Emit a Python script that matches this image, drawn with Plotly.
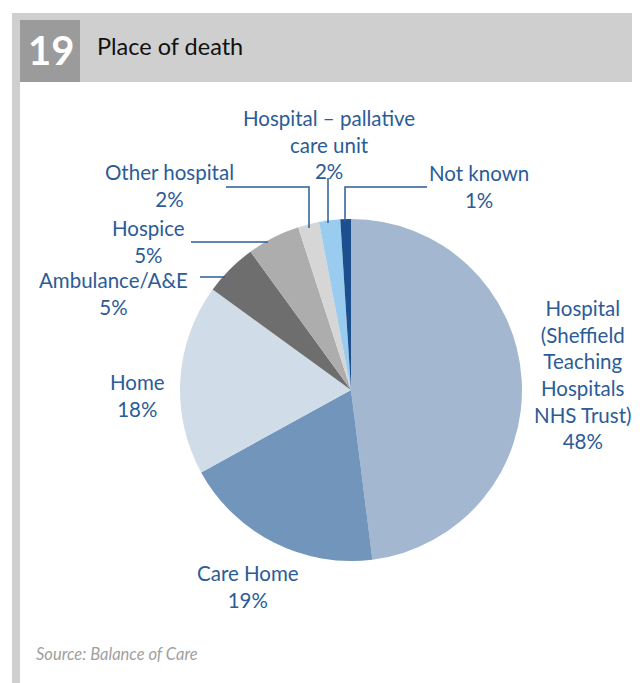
import plotly.graph_objects as go

# ── Data ──────────────────────────────────────────────────────────────────────
places = [
    "Hospital (Sheffield Teaching Hospitals NHS Trust)",
    "Care Home",
    "Home",
    "Ambulance/A&E",
    "Hospice",
    "Other hospital",
    "Hospital – pallative care unit",
    "Not known",
]
shares = [48, 19, 18, 5, 5, 2, 2, 1]
slice_colors = ["#a3b8d0", "#7295bb", "#d0dce8", "#6e6e6e",
                "#adadad", "#d6d6d6", "#99ccef", "#1b4f8e"]

# label text as printed (line-broken), same order as places
label_text = [
    "Hospital<br>(Sheffield<br>Teaching<br>Hospitals<br>NHS Trust)",
    "Care Home",
    "Home",
    "Ambulance/A&E",
    "Hospice",
    "Other hospital",
    "Hospital – pallative<br>care unit",
    "Not known",
]

# ── Styling ───────────────────────────────────────────────────────────────────
OFF = 8            # page body margin pushes the figure 8px right/down
W, H = 640 - OFF, 683 - OFF
TEXT = "#2b5c97"
FONT = "Lato, sans-serif"


def px(x):
    return (x - OFF) / W


def py(y):
    return 1 - (y - OFF) / H


# pie geometry in pixels (centre and radius)
CX, CY, R = 351, 390, 171

fig = go.Figure(go.Pie(
    labels=places,
    values=shares,
    sort=False,
    direction="clockwise",
    rotation=0,
    marker=dict(colors=slice_colors, line=dict(width=0)),
    textinfo="none",
    hoverinfo="label+percent",
    domain=dict(x=[px(CX - R), px(CX + R)], y=[py(CY + R), py(CY - R)]),
))

# label anchor points (centre of top line) in pixels
label_pos = [
    (583, 294),
    (248, 559),
    (137, 368),
    (113, 266),
    (148, 214),
    (169, 158),
    (329, 104),
    (479, 159),
]

annotations = []
for txt, v, (lx, ly) in zip(label_text, shares, label_pos):
    annotations.append(dict(
        x=px(lx), y=py(ly), xref="paper", yref="paper",
        text=f"{txt}<br>{v}%", showarrow=False,
        xanchor="center", yanchor="top", align="center",
        font=dict(size=20.5, color=TEXT, family=FONT),
    ))

annotations += [
    dict(x=px(95), y=py(46), xref="paper", yref="paper", text="Place of death",
         showarrow=False, xanchor="left", yanchor="middle",
         font=dict(size=23.5, color="#111111", family=FONT)),
    dict(x=px(51), y=py(50), xref="paper", yref="paper", text="<b>19</b>",
         showarrow=False, xanchor="center", yanchor="middle",
         font=dict(size=40, color="white", family=FONT)),
    dict(x=px(34), y=py(654), xref="paper", yref="paper",
         text="<i>Source: Balance of Care</i>", showarrow=False,
         xanchor="left", yanchor="middle",
         font=dict(size=16.5, color="#a0a0a0", family=FONT)),
]

# leader lines (pixel polylines)
leaders = [
    [(226, 187), (309, 187), (309, 228)],   # other hospital
    [(328, 178), (328, 223)],               # palliative
    [(427, 187), (345, 187), (345, 222)],   # not known
    [(191, 242), (268, 242)],               # hospice
    [(200, 277), (225, 277)],               # ambulance
]

shapes = [
    # header bar
    dict(type="rect", xref="paper", yref="paper", x0=px(12), x1=px(640),
         y0=py(82), y1=py(13), fillcolor="#cfcfcf", line=dict(width=0), layer="below"),
    # number box
    dict(type="rect", xref="paper", yref="paper", x0=px(20), x1=px(80),
         y0=py(82), y1=py(20), fillcolor="#9b9b9b", line=dict(width=0), layer="below"),
    # left rule
    dict(type="rect", xref="paper", yref="paper", x0=px(12), x1=px(20),
         y0=py(683), y1=py(13), fillcolor="#cfcfcf", line=dict(width=0), layer="below"),
]
for pts in leaders:
    path = "M " + " L ".join(f"{px(x)},{py(y)}" for x, y in pts)
    shapes.append(dict(type="path", xref="paper", yref="paper", path=path,
                       line=dict(color=TEXT, width=1.5)))

fig.update_layout(
    width=W, height=H,
    margin=dict(l=0, r=0, t=0, b=0),
    paper_bgcolor="white",
    plot_bgcolor="white",
    showlegend=False,
    annotations=annotations,
    shapes=shapes,
    font=dict(family=FONT),
)

fig.write_html("out.html")
